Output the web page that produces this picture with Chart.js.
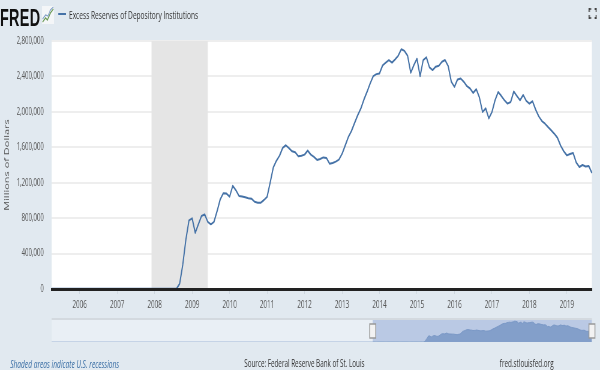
<!DOCTYPE html>
<html><head><meta charset="utf-8">
<script src="https://cdn.jsdelivr.net/npm/chart.js@4"></script>
<style>
html,body{margin:0;padding:0;width:600px;height:370px;overflow:hidden;background:#e1e9f0}
#wrap{position:absolute;left:0;top:0;width:1000px;height:370px;transform:scaleX(.6);transform-origin:0 0;font-family:"Open Sans",sans-serif}
#wrap canvas{position:absolute;left:0}
#main{top:0}
#nav{top:318px}
.t{position:absolute;white-space:nowrap;line-height:1}
#logo{left:0;top:4px;font:bold 24px "Liberation Sans",sans-serif;color:#111;letter-spacing:.5px}
#dash{position:absolute;left:97px;top:13px;width:13px;height:2px;background:#4572a7}
#leg{left:115px;top:9px;font-size:11px;color:#333}
#rec{left:17px;top:358px;font-size:11px;font-style:italic;color:#3a6ea5}
#src{left:407px;top:358px;font-size:10.5px;color:#333}
#url{left:833px;top:358px;font-size:10.5px;color:#333}
svg{position:absolute}
</style></head><body>
<div id="wrap">
<canvas id="main" width="1000" height="310"></canvas>
<canvas id="nav" width="1000" height="26"></canvas>
<div class="t" id="logo">FRED</div>
<svg style="left:70px;top:6px" width="20" height="18" viewBox="0 0 20 18"><rect width="20" height="18" fill="#f4f6f8"/><polyline points="1,16 6,12 9,14 14,7 19,3" fill="none" stroke="#6a9a55" stroke-width="1.5"/><polyline points="1,13 6,9 10,10 14,4 19,1" fill="none" stroke="#7d9cc4" stroke-width="1.2"/></svg>
<span id="dash"></span>
<div class="t" id="leg"></div>
<svg style="left:981px;top:8px" width="14" height="11" viewBox="0 0 14 11"><path d="M1 4V1H4M10 1H13V4M13 7V10H10M4 10H1V7" fill="none" stroke="#444" stroke-width="2"/></svg>
<div class="t" id="rec">Shaded areas indicate U.S. recessions</div>
<div class="t" id="src">Source: Federal Reserve Bank of St. Louis</div>
<div class="t" id="url">fred.stlouisfed.org</div>
</div>
<script>
const seriesName = 'Excess Reserves of Depository Institutions';
const yAxisTitle = 'Millions of Dollars';
const firstYear = 2005, firstMonth = 4;
const reserves = [
 // 2005 Apr-Dec
 1800,1900,1800,1900,1700,1800,1900,1800,1900,
 // 2006
 1800,1700,1800,1900,1800,1900,1800,1700,1800,1900,1800,1900,
 // 2007
 1800,1700,1600,1800,1700,1800,1900,1700,1800,1900,1800,1700,
 // 2008
 1800,1700,1800,1900,2000,2100,2000,2000,59000,275000,559000,775000,
 // 2009
 798000,634000,730000,824000,843000,759000,730000,759000,880000,1013000,1082000,1077000,
 // 2010
 1043000,1165000,1116000,1051000,1045000,1035000,1025000,1020000,985000,975000,975000,1005000,
 // 2011
 1040000,1203000,1373000,1449000,1506000,1593000,1623000,1590000,1555000,1545000,1498000,1505000,
 // 2012
 1517000,1562000,1517000,1491000,1457000,1468000,1486000,1480000,1415000,1423000,1438000,1460000,
 // 2013
 1525000,1619000,1714000,1782000,1873000,1960000,2036000,2138000,2225000,2320000,2403000,2426000,
 // 2014
 2434000,2525000,2555000,2585000,2555000,2593000,2634000,2707000,2688000,2634000,2441000,2528000,
 // 2015
 2600000,2403000,2585000,2616000,2502000,2472000,2510000,2520000,2566000,2585000,2517000,2339000,
 // 2016
 2282000,2366000,2377000,2339000,2290000,2264000,2214000,2256000,2161000,1998000,2040000,1926000,
 // 2017
 1998000,2131000,2225000,2180000,2131000,2093000,2111000,2230000,2180000,2131000,2191000,2123000,
 // 2018
 2093000,2120000,2025000,1949000,1896000,1866000,1827000,1790000,1752000,1706000,1619000,1555000,
 // 2019 Jan-Sep
 1509000,1525000,1536000,1429000,1377000,1400000,1384000,1389000,1312000
];
const months = reserves.map((_, i) => {
  const m = firstMonth - 1 + i;
  return (firstYear + Math.floor(m / 12)) + '-' + String(m % 12 + 1).padStart(2, '0');
});
const recessionStart = '2007-12', recessionEnd = '2009-06';
const yMax = 2800000, yStep = 400000;
const navYears = { min: 1983.57, max: 2019.1, step: 5, shift: 0.56 };
const navMax = 3000000;
const monthToYear = s => +s.slice(0, 4) + (+s.slice(5) - 1) / 12 - navYears.shift;

document.getElementById('leg').textContent = seriesName;
Chart.defaults.font.family = '"Open Sans", sans-serif';

const mainDecor = {
  id: 'mainDecor',
  beforeDraw(c) {
    const a = c.chartArea, g = c.ctx;
    g.save();
    g.fillStyle = '#fff';
    g.fillRect(a.left, a.top, a.width, a.height);
    g.restore();
  },
  beforeDatasetsDraw(c) {
    const a = c.chartArea, x = c.scales.x, g = c.ctx;
    const x0 = x.getPixelForValue(months.indexOf(recessionStart));
    const x1 = x.getPixelForValue(months.indexOf(recessionEnd));
    g.save();
    g.fillStyle = '#e5e5e5';
    g.fillRect(x0, a.top, x1 - x0, a.height);
    g.restore();
  }
};

new Chart(document.getElementById('main'), {
  type: 'line',
  plugins: [mainDecor],
  data: { labels: months, datasets: [{
    label: seriesName, data: reserves, borderColor: '#4572a7', borderWidth: 2,
    pointRadius: 0, tension: 0, borderJoinStyle: 'round', clip: false
  }]},
  options: {
    responsive: false, animation: false, devicePixelRatio: 1,
    layout: { padding: { left: 0, right: 13.6, top: 41, bottom: 0 } },
    plugins: { legend: { display: false }, tooltip: { enabled: false } },
    scales: {
      x: {
        type: 'category',
        afterBuildTicks(s) { s.ticks = s.ticks.filter(t => months[t.value].endsWith('-01')); },
        afterFit(s) { s.height = 21; },
        grid: { drawOnChartArea: false, tickLength: 5, color: '#ccd5de', lineWidth: 1, z: 1 },
        border: { color: '#222', width: 3, z: 1 },
        ticks: {
          autoSkip: false, maxRotation: 0, minRotation: 0, padding: 4.5,
          color: '#555', font: { size: 10.5 },
          callback(v) { return months[v].slice(0, 4); }
        }
      },
      y: {
        min: 0, max: yMax,
        afterFit(s) { s.width = 86; },
        grid: { color: '#eeeeee', lineWidth: 2, drawTicks: false },
        border: { display: false },
        ticks: {
          stepSize: yStep, padding: 13, color: '#555', font: { size: 10 },
          callback: v => v.toLocaleString('en-US')
        },
        title: { display: true, text: yAxisTitle, color: '#555', font: { size: 11 }, padding: { top: 5, bottom: 0 } }
      }
    }
  }
});

const navDecor = {
  id: 'navDecor',
  beforeDraw(c) {
    const a = c.chartArea, x = c.scales.x, g = c.ctx;
    const sx = x.getPixelForValue(monthToYear(months[0]));
    g.save();
    g.fillStyle = '#e9eff5';
    g.fillRect(a.left, a.top, a.width, a.height);
    g.fillStyle = '#bac9e4';
    g.fillRect(sx, a.top, a.right - sx, a.height);
    g.fillStyle = '#d3d9df';
    g.fillRect(a.left, 0, a.width, 2);
    g.fillStyle = '#c5d3e6';
    g.fillRect(a.left, a.bottom - 1, a.width, 1);
    g.restore();
  },
  afterDraw(c) {
    const x = c.scales.x, g = c.ctx;
    const sx = x.getPixelForValue(monthToYear(months[0]));
    const ex = x.getPixelForValue(monthToYear(months[months.length - 1]));
    g.save();
    for (const h of [sx, ex]) {
      g.fillStyle = '#f2f2f2';
      g.strokeStyle = '#999';
      g.lineWidth = 1.5;
      g.fillRect(h - 5, 6, 10, 14);
      g.strokeRect(h - 5, 6, 10, 14);
    }
    g.restore();
  }
};

new Chart(document.getElementById('nav'), {
  type: 'line',
  plugins: [navDecor],
  data: { datasets: [{
    data: reserves.map((v, i) => ({ x: monthToYear(months[i]), y: v })),
    borderColor: '#7a98c6', borderWidth: 1, backgroundColor: '#839fca',
    fill: 'origin', pointRadius: 0, tension: 0
  }]},
  options: {
    responsive: false, animation: false, devicePixelRatio: 1,
    layout: { padding: { left: 86, right: 13.6, top: 1, bottom: 2 } },
    plugins: { legend: { display: false }, tooltip: { enabled: false } },
    scales: {
      x: {
        type: 'linear', min: navYears.min, max: navYears.max,
        afterFit(s) { s.height = 0; },
        grid: { display: false, drawTicks: false },
        border: { display: false },
        ticks: {
          stepSize: navYears.step, includeBounds: false, autoSkip: false, maxRotation: 0,
          mirror: true, padding: -13, z: 1, color: 'rgba(90,100,110,.38)', font: { size: 10.5 },
          callback: v => String(v)
        }
      },
      y: { display: false, min: 0, max: navMax }
    }
  }
});
</script>
</body></html>
